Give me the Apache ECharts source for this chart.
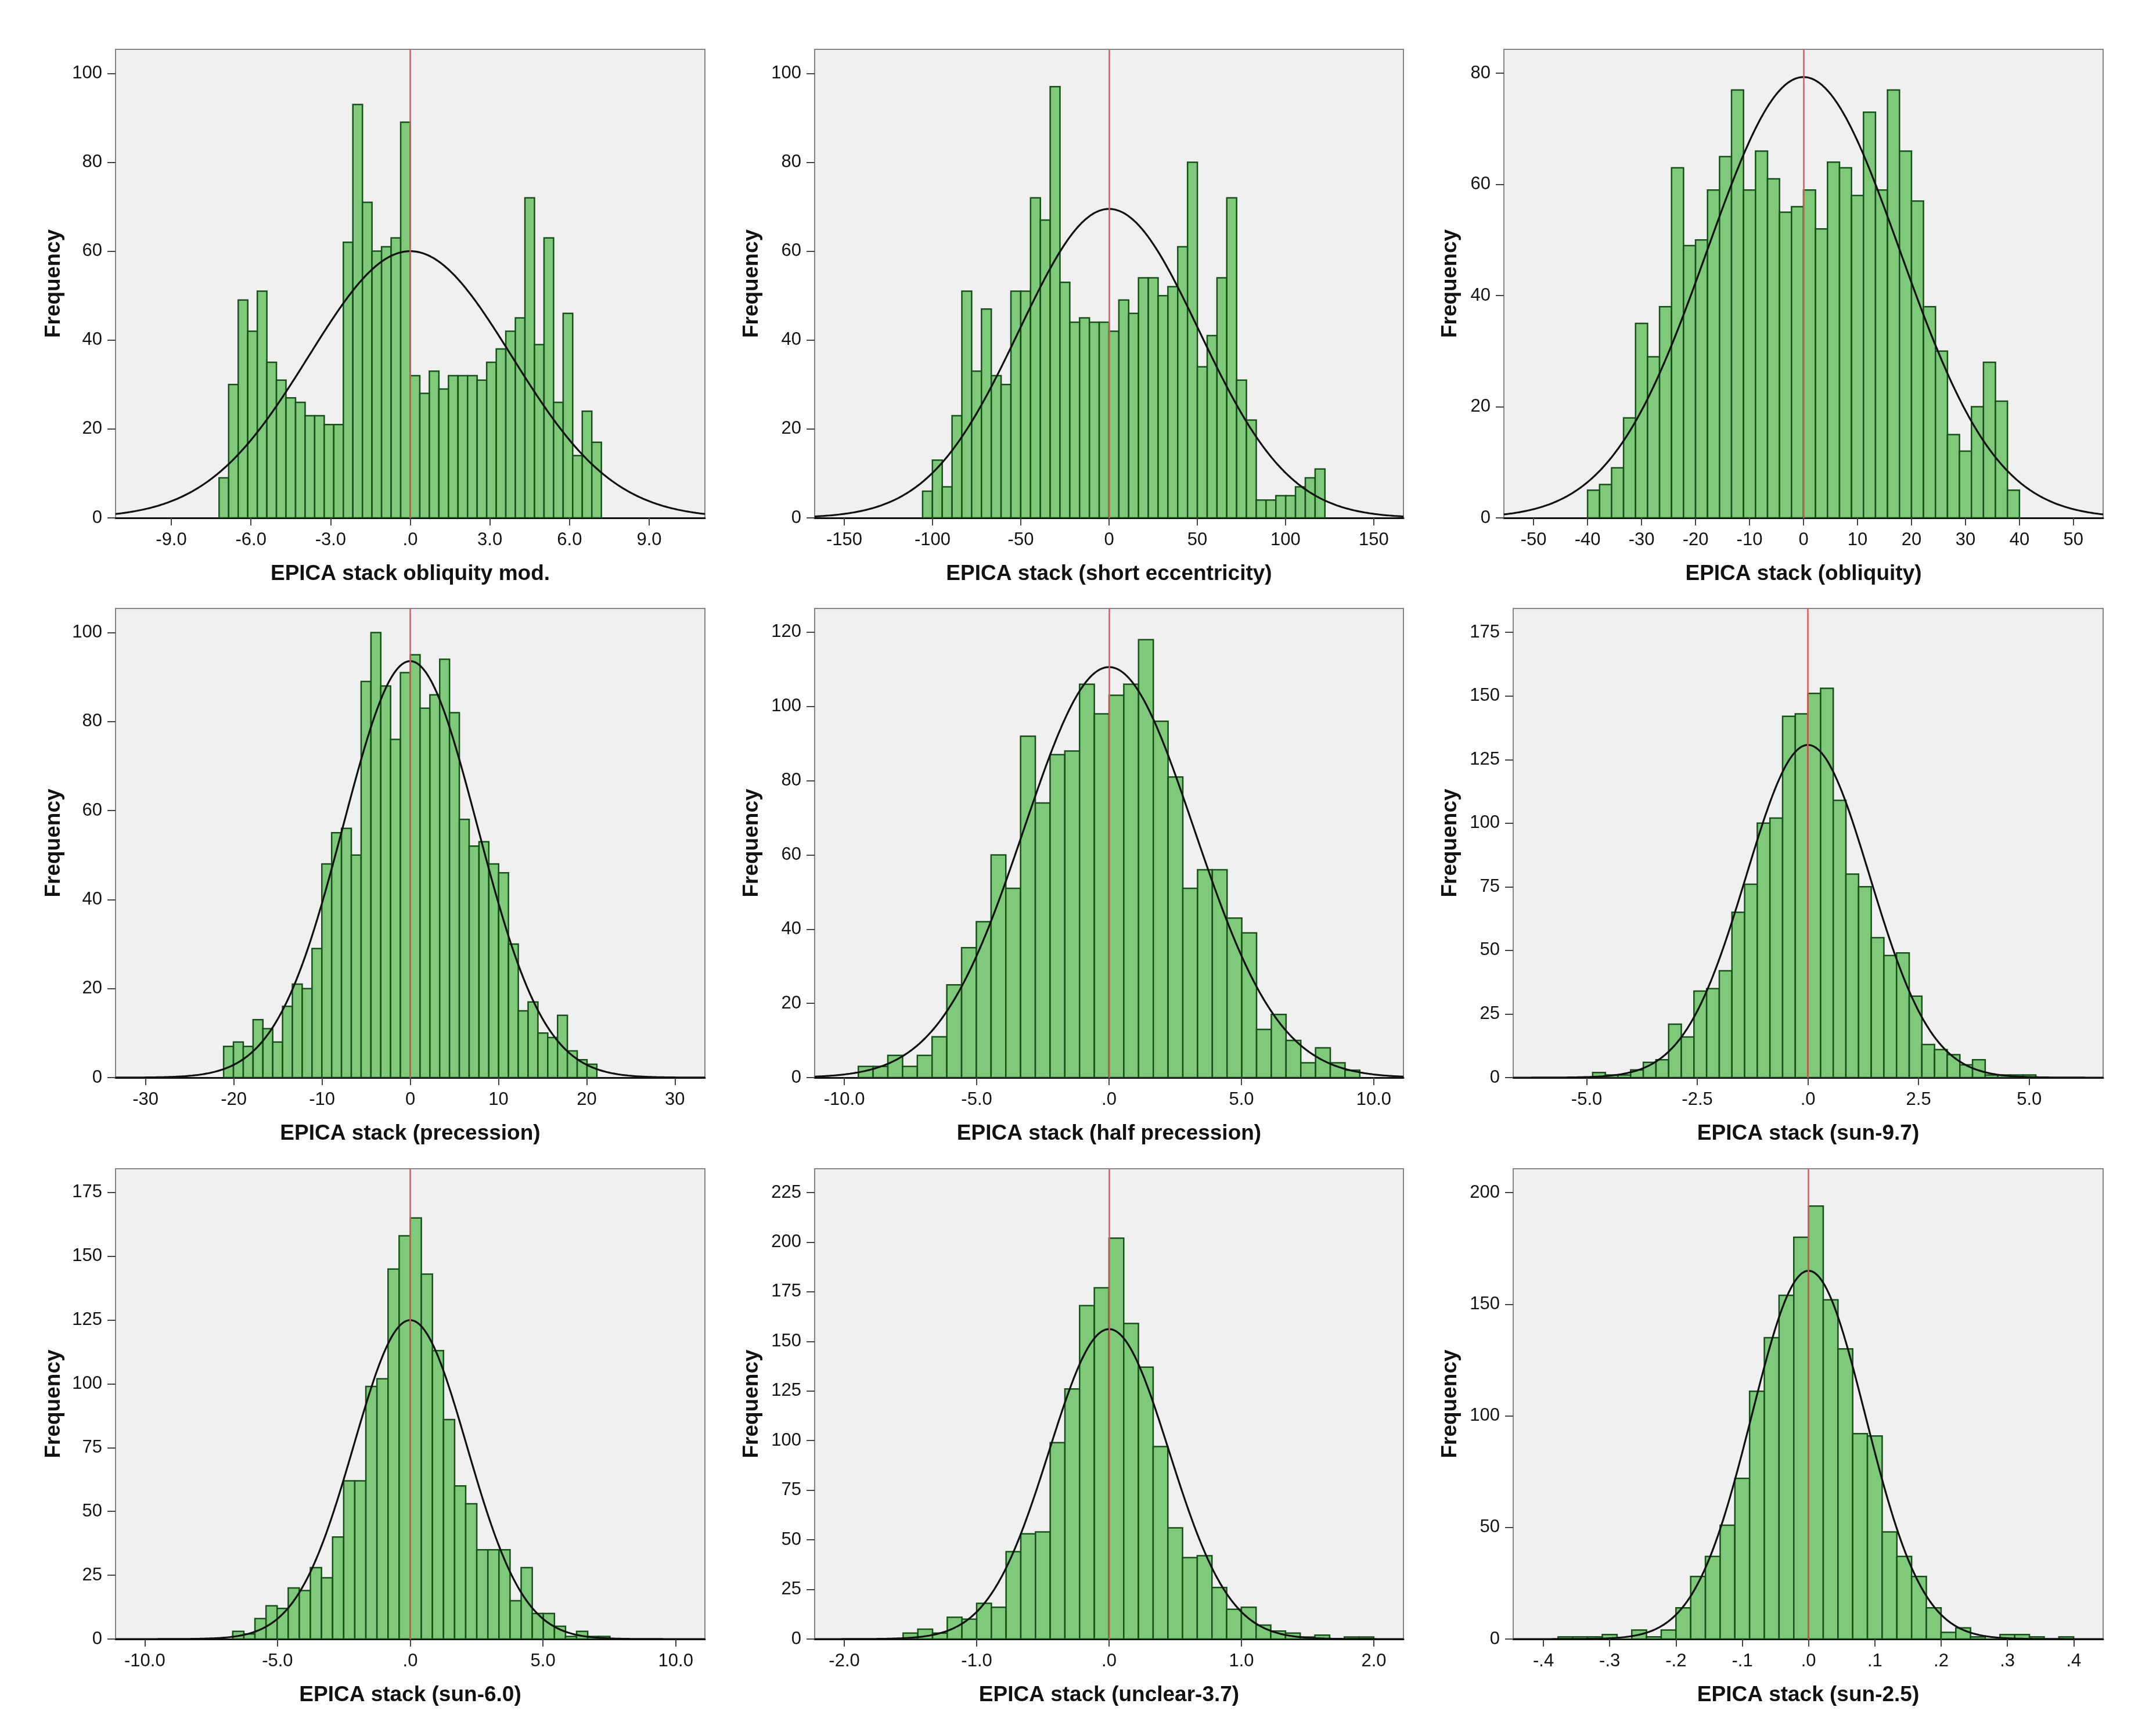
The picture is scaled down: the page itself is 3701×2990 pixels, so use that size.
<!DOCTYPE html>
<html><head><meta charset="utf-8">
<script src="https://cdn.jsdelivr.net/npm/echarts@6/dist/echarts.min.js"></script>
<style>html,body{margin:0;padding:0;background:#fff}#c{width:3701px;height:2990px}</style>
</head><body><div id="c"></div>
<script>
// ---------------- DATA ----------------
const panelTitles = [
  "EPICA stack obliquity mod.", "EPICA stack (short eccentricity)", "EPICA stack (obliquity)",
  "EPICA stack (precession)", "EPICA stack (half precession)", "EPICA stack (sun-9.7)",
  "EPICA stack (sun-6.0)", "EPICA stack (unclear-3.7)", "EPICA stack (sun-2.5)"
];
// histogram bins: first lower edge and bin width per panel
const binStart = [-7.2, -105.64, -40, -21.15, -9.47, -4.864, -6.685, -1.5556, -0.3778];
const binWidth = [0.36, 5.56, 2.2222, 1.1132, 0.5571, 0.2861, 0.4178, 0.1111, 0.02222];
// frequencies
const counts1 = [9,30,49,42,51,35,31,27,26,23,23,21,21,62,93,71,60,61,63,89,32,28,33,29,32,32,32,31,35,38,42,45,72,39,63,26,46,14,24,17];
const counts2 = [6,13,7,23,51,33,47,32,30,51,51,72,67,97,53,44,45,44,44,42,49,46,54,54,50,52,61,80,34,41,54,72,31,22,4,4,5,5,7,9,11];
const counts3 = [5,6,9,18,35,29,38,63,49,50,59,65,77,59,66,61,55,56,59,52,64,63,58,73,59,77,66,57,38,30,15,12,20,28,21,5];
const counts4 = [7,8,7,13,11,8,16,21,20,29,48,55,56,50,89,100,88,76,91,95,83,86,94,82,58,52,53,48,46,30,15,17,10,9,14,6,4,3];
const counts5 = [3,3,6,3,6,11,25,35,42,60,51,92,74,87,88,106,98,103,106,118,96,81,51,56,56,43,39,13,17,10,4,8,4,2];
const counts6 = [2,1,1,3,6,7,21,16,34,35,42,65,76,100,102,142,143,151,153,109,80,75,55,48,49,32,13,11,9,5,7,1,1,1,1];
const counts7 = [3,2,8,13,12,20,19,28,24,40,62,62,99,102,145,158,165,143,113,86,60,53,35,35,35,15,28,10,10,5,1,3,1,1];
const counts8 = [3,5,3,11,10,18,16,44,53,54,99,126,168,177,202,159,137,97,56,41,42,26,15,16,7,4,3,1,2,0,1,1];
const counts9 = [1,1,1,2,0,4,1,4,14,28,37,51,72,111,135,154,180,194,152,130,92,91,48,37,28,14,3,5,1,0,2,2,1,0,1];
const allCounts = [counts1,counts2,counts3,counts4,counts5,counts6,counts7,counts8,counts9];
// fitted normal curve parameters
const sampleN = 1597;
const curveMean = [0,0,0,0,0,0,0,0,0];
const curveSd = [3.823, 50.97, 17.85, 7.58, 3.209, 1.394, 2.13, 0.4532, 0.0858];
// axis ranges
const xMin = [-11.1, -166.8, -55.5, -33.4, -11.12, -6.66, -11.1, -2.224, -0.4456];
const xMax = [ 11.1,  166.8,  55.5,  33.4,  11.12,  6.67,  11.1,  2.224,  0.4444];
const yMax = [105.4, 105.4, 84.3, 105.4, 126.4, 184.4, 184.3, 237, 210.7];
// tick values and labels
const xTicks = [
  [-9,-6,-3,0,3,6,9], [-150,-100,-50,0,50,100,150], [-50,-40,-30,-20,-10,0,10,20,30,40,50],
  [-30,-20,-10,0,10,20,30], [-10,-5,0,5,10], [-5,-2.5,0,2.5,5],
  [-10,-5,0,5,10], [-2,-1,0,1,2], [-0.4,-0.3,-0.2,-0.1,0,0.1,0.2,0.3,0.4]
];
const xTickLabels = [
  ["-9.0","-6.0","-3.0",".0","3.0","6.0","9.0"], ["-150","-100","-50","0","50","100","150"],
  ["-50","-40","-30","-20","-10","0","10","20","30","40","50"],
  ["-30","-20","-10","0","10","20","30"], ["-10.0","-5.0",".0","5.0","10.0"], ["-5.0","-2.5",".0","2.5","5.0"],
  ["-10.0","-5.0",".0","5.0","10.0"], ["-2.0","-1.0",".0","1.0","2.0"],
  ["-.4","-.3","-.2","-.1",".0",".1",".2",".3",".4"]
];
const yTicks = [
  [0,20,40,60,80,100], [0,20,40,60,80,100], [0,20,40,60,80],
  [0,20,40,60,80,100], [0,20,40,60,80,100,120], [0,25,50,75,100,125,150,175],
  [0,25,50,75,100,125,150,175], [0,25,50,75,100,125,150,175,200,225], [0,50,100,150,200]
];

// ---------------- LAYOUT ----------------
const gridLeft = [199, 1403, 2590, 199, 1403, 2606, 199, 1403, 2606];
const gridRight = [1214, 2417, 3622];
const gridTop = [85, 1048, 2013];
const gridBottom = [892, 1856, 2823];
const freqCenterX = [92, 1294, 2497];

const FONT = "'Liberation Sans', Arial, sans-serif";
const chart = echarts.init(document.getElementById('c'), null, {renderer: 'canvas', width: 3701, height: 2990});
const grids = [], xAxes = [], yAxes = [], series = [];

for (let i = 0; i < 9; i++) {
  const col = i % 3, row = Math.floor(i / 3);
  const left = gridLeft[i], top = gridTop[row];
  grids.push({
    left: left, top: top, width: gridRight[col] - left, height: gridBottom[row] - top,
    show: true, backgroundColor: '#f0f0f0', borderColor: '#858585', borderWidth: 2, containLabel: false
  });
  const labels = xTickLabels[i], ticks = xTicks[i];
  xAxes.push({
    type: 'value', gridIndex: i, min: xMin[i], max: xMax[i], position: 'bottom',
    name: panelTitles[i], nameLocation: 'middle', nameGap: 78,
    nameTextStyle: {fontFamily: FONT, fontWeight: 'bold', fontSize: 37, color: '#111'},
    axisLine: {show: true, onZero: false, lineStyle: {color: '#111', width: 3}},
    axisTick: {show: true, length: 13, customValues: ticks, lineStyle: {color: '#444', width: 2}},
    axisLabel: {
      customValues: ticks, margin: 23, fontFamily: FONT, fontSize: 31, color: '#111',
      formatter: function (v) {
        for (let k = 0; k < ticks.length; k++) if (Math.abs(ticks[k] - v) < 1e-9) return labels[k];
        return '';
      }
    },
    splitLine: {show: false}
  });
  yAxes.push({
    type: 'value', gridIndex: i, min: 0, max: yMax[i], position: 'left',
    name: 'Frequency', nameLocation: 'middle', nameGap: left - freqCenterX[col] - 19,
    nameTextStyle: {fontFamily: FONT, fontWeight: 'bold', fontSize: 37, color: '#111'},
    axisLine: {show: true, onZero: false, lineStyle: {color: '#858585', width: 2}},
    axisTick: {show: true, length: 14, customValues: yTicks[i], lineStyle: {color: '#444', width: 2}},
    axisLabel: {customValues: yTicks[i], margin: 23, fontFamily: FONT, fontSize: 31, color: '#111'},
    splitLine: {show: false}
  });
  // histogram bars
  const counts = allCounts[i];
  const barData = counts.map((c, k) => [binStart[i] + k * binWidth[i], binStart[i] + (k + 1) * binWidth[i], c]);
  series.push({
    type: 'custom', xAxisIndex: i, yAxisIndex: i, data: barData, encode: {x: [0, 1], y: 2},
    clip: true, z: 2,
    renderItem: function (params, api) {
      const p0 = api.coord([api.value(0), 0]);
      const p1 = api.coord([api.value(1), api.value(2)]);
      return {
        type: 'rect',
        shape: {x: p0[0], y: p1[1], width: p1[0] - p0[0], height: p0[1] - p1[1]},
        style: {fill: '#7ec97a', stroke: '#175019', lineWidth: 2.5}
      };
    }
  });
  // fitted normal curve
  const peak = sampleN * binWidth[i] / (curveSd[i] * Math.sqrt(2 * Math.PI));
  const curve = [];
  const steps = 400;
  for (let s = 0; s <= steps; s++) {
    const x = xMin[i] + (xMax[i] - xMin[i]) * s / steps;
    const d = (x - curveMean[i]) / curveSd[i];
    curve.push([x, peak * Math.exp(-0.5 * d * d)]);
  }
  series.push({
    type: 'line', xAxisIndex: i, yAxisIndex: i, data: curve, showSymbol: false, smooth: false,
    lineStyle: {color: '#111', width: 3.2}, z: 4, silent: true,
    markLine: {
      silent: true, symbol: ['none', 'none'], label: {show: false},
      lineStyle: {color: '#e05a5a', width: 2.5, type: 'solid'},
      data: [{xAxis: 0}]
    }
  });
}

chart.setOption({animation: false, backgroundColor: '#ffffff', grid: grids, xAxis: xAxes, yAxis: yAxes, series: series});
</script>
</body></html>
